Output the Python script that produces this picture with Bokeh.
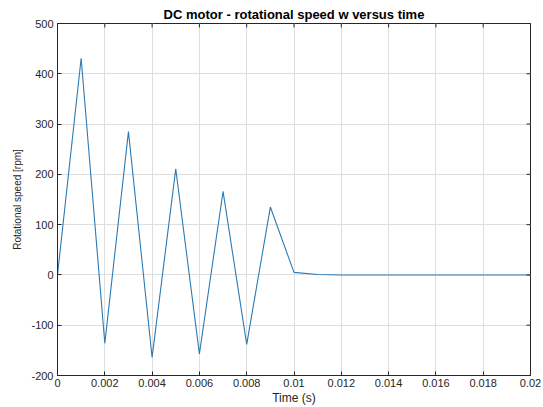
import math
from bokeh.plotting import figure
from bokeh.models import FixedTicker, Range1d
from bokeh.embed import file_html
from bokeh.resources import INLINE

time_s = [0.000, 0.001, 0.002, 0.003, 0.004, 0.005, 0.006, 0.007, 0.008, 0.009,
          0.010, 0.011, 0.012, 0.013, 0.014, 0.015, 0.016, 0.017, 0.018, 0.019, 0.020]
speed_rpm = [0, 431, -136, 285, -164, 211, -157, 166, -138, 135,
             5, 1, 0, 0, 0, 0, 0, 0, 0, 0, 0]

x_ticks = [0, 0.002, 0.004, 0.006, 0.008, 0.010, 0.012, 0.014, 0.016, 0.018, 0.020]
x_tick_labels = ["0", "0.002", "0.004", "0.006", "0.008", "0.01", "0.012", "0.014", "0.016", "0.018", "0.02"]
y_ticks = [-200, -100, 0, 100, 200, 300, 400, 500]
y_tick_labels = ["-200", "-100", "0", "100", "200", "300", "400", "500"]

FONT = "Liberation Sans"
TXT = "#262626"

p = figure(width=543, height=407, output_backend="svg", toolbar_location=None,
           x_range=Range1d(x_ticks[0], x_ticks[-1]), y_range=Range1d(y_ticks[0], y_ticks[-1]),
           min_border_left=57, min_border_right=13, min_border_top=23, min_border_bottom=31)

p.title.text = "DC motor - rotational speed w versus time"
p.title.align = "center"
p.title.text_font = FONT
p.title.text_font_size = "13px"
p.title.text_font_style = "bold"
p.title.text_color = "#000000"
p.title.offset = 0
p.title.standoff = 3

p.line(time_s, speed_rpm, line_color="#2a7ab5", line_width=1.1)

for ax, ticks, labels in ((p.xaxis[0], x_ticks, x_tick_labels), (p.yaxis[0], y_ticks, y_tick_labels)):
    ax.ticker = FixedTicker(ticks=ticks)
    ax.major_label_overrides = {t: l for t, l in zip(ticks, labels)}
    ax.major_tick_in = 4
    ax.major_tick_out = 0
    ax.minor_tick_in = 0
    ax.minor_tick_out = 0
    ax.axis_line_color = TXT
    ax.major_tick_line_color = TXT
    ax.major_label_text_font = FONT
    ax.major_label_text_font_size = "11px"
    ax.major_label_text_color = TXT
    ax.axis_label_text_font = FONT
    ax.axis_label_text_font_style = "normal"
    ax.axis_label_text_color = TXT

p.xaxis[0].axis_label = "Time (s)"
p.xaxis[0].axis_label_text_font_size = "12px"
p.xaxis[0].major_label_standoff = 3
p.xaxis[0].axis_label_standoff = 1
p.yaxis[0].axis_label = "Rotational speed [rpm]"
p.yaxis[0].axis_label_text_font_size = "10px"
p.yaxis[0].major_label_standoff = 4
p.yaxis[0].axis_label_standoff = 5

# inward tick marks on the top and right edges of the box (clipped to the frame)
p.scatter(x=x_ticks, y=[y_ticks[-1]] * len(x_ticks), marker="dash", angle=math.pi / 2,
          size=8, line_color=TXT, line_width=1)
p.scatter(x=[x_ticks[-1]] * len(y_ticks), y=y_ticks, marker="dash",
          size=8, line_color=TXT, line_width=1)

p.xgrid.ticker = FixedTicker(ticks=x_ticks)
p.ygrid.ticker = FixedTicker(ticks=y_ticks)
p.grid.grid_line_color = "#dedede"
p.grid.grid_line_width = 1
p.outline_line_color = TXT
p.background_fill_color = "white"
p.border_fill_color = "white"

open("out.html", "w").write(file_html(p, INLINE))
